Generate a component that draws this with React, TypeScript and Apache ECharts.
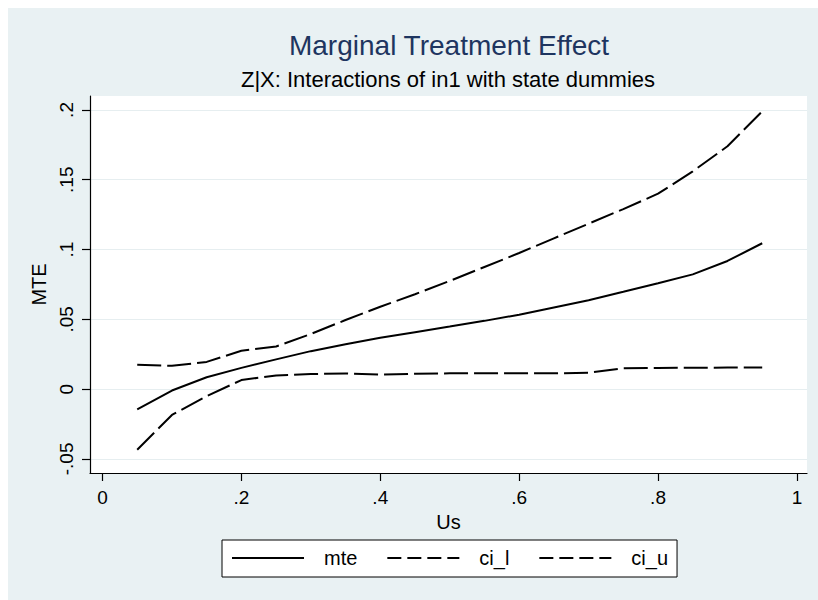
import React, { useEffect, useRef } from 'react';
import * as echarts from 'echarts';

const us = [0.05, 0.1, 0.15, 0.2, 0.25, 0.3, 0.35, 0.4, 0.45, 0.5, 0.55, 0.6, 0.65, 0.7, 0.75, 0.8, 0.85, 0.9, 0.95];
const mte = [-0.0145, -0.001, 0.0085, 0.0152, 0.0213, 0.0272, 0.0322, 0.0368, 0.0408, 0.0448, 0.0489, 0.0533, 0.0585, 0.0637, 0.0697, 0.0758, 0.0822, 0.0918, 0.1045];
const ciL = [-0.0435, -0.0185, -0.005, 0.0065, 0.0098, 0.0108, 0.0112, 0.0105, 0.011, 0.0113, 0.0113, 0.0113, 0.0113, 0.0118, 0.015, 0.0152, 0.0153, 0.0154, 0.0155];
const ciU = [0.0175, 0.0167, 0.0195, 0.0275, 0.0305, 0.0395, 0.0495, 0.059, 0.068, 0.0775, 0.0875, 0.0975, 0.108, 0.1185, 0.129, 0.14, 0.156, 0.174, 0.199];
const xTicks = [0, 0.2, 0.4, 0.6, 0.8, 1];
const yTicks = [-0.05, 0, 0.05, 0.1, 0.15, 0.2];

const FONT = '"Liberation Sans", Arial, sans-serif';
const fmt = (v: number) => String(Math.round(v * 100) / 100).replace(/^(-?)0\./, '$1.');

export default function App() {
  const ref = useRef<HTMLDivElement>(null);
  useEffect(() => {
    if (!ref.current) return;
    const chart = echarts.init(ref.current, undefined, { renderer: 'svg' });
    const dash = [24, 6];
    const mk = (name: string, vals: number[], dashed: boolean) => ({
      name,
      type: 'line',
      data: us.map((u, i) => [u, vals[i]]),
      symbol: 'none',
      lineStyle: { color: '#000', width: 2, type: dashed ? dash : 'solid' },
      itemStyle: { color: '#000' },
    });
    chart.setOption({
      animation: false,
      backgroundColor: '#e9f1f3',
      textStyle: { fontFamily: FONT },
      title: [
        {
          text: 'Marginal Treatment Effect',
          left: 441,
          top: 23.5,
          padding: 0,
          textAlign: 'center',
          textStyle: { fontSize: 28, lineHeight: 28, fontWeight: 'normal', color: '#1e3560', fontFamily: FONT },
        },
        {
          text: 'Z|X: Interactions of in1 with state dummies',
          left: 440,
          top: 60.5,
          padding: 0,
          textAlign: 'center',
          textStyle: { fontSize: 22, lineHeight: 22, fontWeight: 'normal', color: '#000', fontFamily: FONT },
        },
      ],
      grid: { left: 82, right: 11, top: 88, bottom: 127, show: true, backgroundColor: '#fff', borderWidth: 0 },
      xAxis: {
        type: 'value',
        min: -0.018,
        max: 1.0145,
        name: 'Us',
        nameLocation: 'middle',
        nameGap: 32,
        nameTextStyle: { fontSize: 20, color: '#000', fontFamily: FONT },
        axisLine: { show: true, onZero: false, lineStyle: { color: '#000', width: 1.2 } },
        axisTick: { show: true, length: 8, customValues: xTicks, lineStyle: { color: '#000', width: 1.2 } },
        axisLabel: { customValues: xTicks, formatter: fmt, fontSize: 19, color: '#000', margin: 15, fontFamily: FONT },
        splitLine: { show: false },
      },
      yAxis: {
        type: 'value',
        min: -0.0601,
        max: 0.21,
        name: 'MTE',
        nameLocation: 'middle',
        nameGap: 40,
        nameTextStyle: { fontSize: 20, color: '#000', fontFamily: FONT },
        axisLine: { show: true, onZero: false, lineStyle: { color: '#000', width: 1.2 } },
        axisTick: { show: true, length: 8, customValues: yTicks, lineStyle: { color: '#000', width: 1.2 } },
        axisLabel: { customValues: yTicks, formatter: fmt, fontSize: 19, color: '#000', margin: 14, rotate: 90, fontFamily: FONT },
        splitLine: { show: true, lineStyle: { color: '#e6eef0', width: 1.2 } },
      },
      legend: {
        left: 214,
        top: 532,
        orient: 'horizontal',
        padding: [8, 9, 9, 9],
        itemWidth: 72,
        itemHeight: 14,
        itemGap: 29,
        backgroundColor: '#fff',
        borderColor: '#000',
        borderWidth: 1,
        borderRadius: 0,
        itemStyle: { opacity: 0 },
        textStyle: { fontSize: 20, lineHeight: 20, color: '#000', fontFamily: FONT, padding: [0, 0, 0, 15] },
        data: [
          { name: 'mte' },
          { name: 'ci_l', lineStyle: { type: [14, 6] } },
          { name: 'ci_u', lineStyle: { type: [14, 6] } },
        ],
      },
      series: [mk('mte', mte, false), mk('ci_l', ciL, true), mk('ci_u', ciU, true)],
    });
    return () => chart.dispose();
  }, []);
  return <div ref={ref} style={{ position: 'absolute', left: 8, top: 8, width: 810, height: 592 }} />;
}
